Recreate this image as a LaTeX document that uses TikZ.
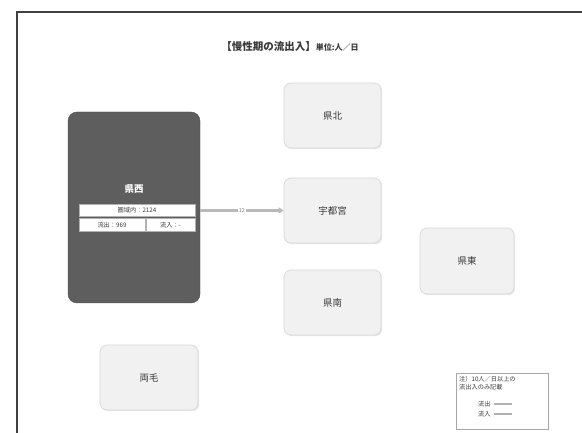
\documentclass[tikz,border=0pt]{standalone}
\usepackage{fontspec}
\newfontfamily\jp{Noto Sans CJK JP}
\usetikzlibrary{arrows.meta,shadows}
\definecolor{boxfill}{HTML}{F1F1F1}
\definecolor{boxline}{HTML}{DADADA}
\definecolor{darkfill}{HTML}{5E5E5E}
\definecolor{txt}{HTML}{3A3A3A}
\tikzset{
  area/.style={draw=boxline, fill=boxfill, rounded corners=7pt, line width=0.8pt,
    minimum width=97pt, minimum height=65pt, font=\jp\fontsize{9.5}{10}\selectfont, text=txt,
    drop shadow={shadow xshift=1.2pt, shadow yshift=-1.2pt, fill=black!18}},
  darkarea/.style={draw=darkfill!80!black, fill=darkfill, rounded corners=9pt,
    minimum width=132pt, minimum height=191pt},
  cell/.style={draw=gray!60, fill=white, inner sep=0pt, font=\jp\fontsize{6.2}{7}\selectfont, text=txt},
  flow/.style={-{Triangle[length=5pt,width=6pt]}, line width=2.2pt, draw=gray!55},
  legend/.style={draw=gray!70, fill=white, line width=0.6pt, inner sep=0pt,
    minimum width=92pt, minimum height=56pt},
  legtxt/.style={font=\jp\fontsize{6.2}{8}\selectfont, text=txt, inner sep=0pt}
}
\begin{document}
\begin{tikzpicture}[x=1pt,y=-1pt]
\useasboundingbox (0,0) rectangle (582,433);
\fill[white] (0,0) rectangle (582,433);
\draw[line width=1.2pt, draw=black!75] (17,440) -- (17,12) -- (590,12);
\node[font=\jp\bfseries\fontsize{10.5}{12}\selectfont, text=txt] (title) at (290,47)
  {【慢性期の流出入】{\fontsize{8}{9}\selectfont 単位:人／日}};
% dark box
\node[darkarea] (kensei) at (134,207.5) {};
\node[font=\jp\bfseries\fontsize{9.5}{10}\selectfont, text=white] (kenseilabel) at (134,189) {県西};
\node[cell, minimum width=116pt, minimum height=12pt] (inner) at (137,210) {圏域内：2124};
\node[cell, minimum width=66pt, minimum height=13pt] (out) at (112,225) {流出：969};
\node[cell, minimum width=49pt, minimum height=13pt] (in) at (170.5,225) {流入：-};
% light boxes
\node[area] (kenpoku) at (332.5,115.5) {県北};
\node[area] (utsunomiya) at (332.5,210.5) {宇都宮};
\node[area] (kennan) at (332.5,302.5) {県南};
\node[area, minimum width=94pt, minimum height=66pt] (kento) at (467,261) {県東};
\node[area, minimum width=98pt] (ryomo) at (149,377.5) {両毛};
% flow
\draw[flow] (kensei.east |- utsunomiya) -- node[fill=white, inner sep=1pt, font=\jp\fontsize{5.5}{6}\selectfont, text=gray] (flowlabel) {12} (utsunomiya.west);
% legend
\node[legend] (leg) at (502,401) {};
\node[legtxt, align=left, anchor=north west] (legtext) at (459,376)
  {注）10人／日以上の\\流出入のみ記載};
\node[legtxt, anchor=west] (legout) at (478,404) {流出};
\node[legtxt, anchor=west] (legin) at (478,414) {流入};
\coordinate (lo1) at (494,404); \coordinate (lo2) at (512,404);
\coordinate (li1) at (494,414); \coordinate (li2) at (512,414);
\draw[line width=1.6pt, gray!60] (lo1) -- (lo2);
\draw[line width=1.6pt, gray!60] (li1) -- (li2);
\end{tikzpicture}
\end{document}
